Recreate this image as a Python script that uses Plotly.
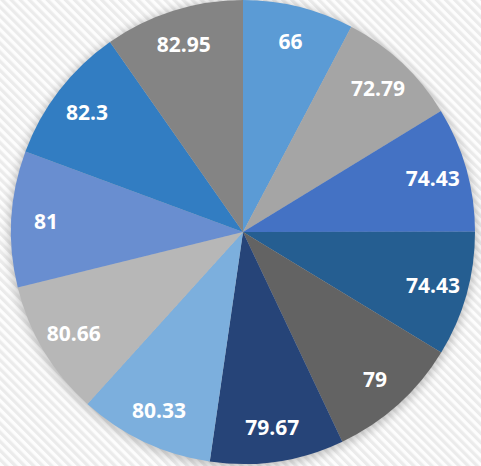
import plotly.graph_objects as go
import base64

labels = ["A1", "A2", "A3", "A4", "A5", "A6", "A7", "A8", "A9", "A10", "A11"]
values = [66, 72.79, 74.43, 74.43, 79, 79.67, 80.33, 80.66, 81, 82.3, 82.95]
text_labels = ["66", "72.79", "74.43", "74.43", "79", "79.67", "80.33", "80.66", "81", "82.3", "82.95"]
colors = ["#5B9BD5", "#A5A5A5", "#4472C4", "#255E91", "#636363", "#264478",
          "#7CAFDD", "#B7B7B7", "#698ED0", "#327DC2", "#848484"]

W, H = 481, 466
CX, CY, R = 243, 232, 232  # pie centre and radius in pixels (from top-left)

svg = ('<svg xmlns="http://www.w3.org/2000/svg" width="481" height="466">'
       '<defs><pattern id="p" width="6.4" height="6.4" patternUnits="userSpaceOnUse" '
       'patternTransform="rotate(-45)"><rect width="6.4" height="6.4" fill="#fdfdfd"/>'
       '<rect width="3.2" height="6.4" fill="#ebebeb"/></pattern>'
       '<filter id="b" x="-20%" y="-20%" width="140%" height="140%">'
       '<feGaussianBlur stdDeviation="5"/></filter></defs>'
       '<rect width="481" height="466" fill="url(#p)"/>'
       f'<circle cx="{CX}" cy="{CY + 2}" r="{R + 2}" fill="#000" opacity="0.22" filter="url(#b)"/>'
       '</svg>')
bg = "data:image/svg+xml;base64," + base64.b64encode(svg.encode()).decode()

dom = dict(x=[(CX - R) / W, (CX + R) / W], y=[(H - CY - R) / H, (H - CY + R) / H])

fig = go.Figure()
fig.add_trace(go.Pie(
    labels=labels,
    values=values,
    textinfo="none",
    sort=False,
    direction="clockwise",
    rotation=0,
    marker=dict(colors=colors, line=dict(width=0)),
    domain=dom,
    showlegend=False,
    hoverinfo="label+value",
))
fig.add_trace(go.Pie(
    labels=labels,
    values=values,
    text=text_labels,
    textinfo="text",
    textposition="inside",
    insidetextorientation="horizontal",
    sort=False,
    direction="clockwise",
    rotation=0,
    hole=0.7,
    marker=dict(colors=["rgba(0,0,0,0)"] * len(values), line=dict(width=0)),
    textfont=dict(family="Open Sans", size=21, color="white", weight="bold"),
    domain=dom,
    showlegend=False,
    hoverinfo="skip",
))

fig.update_layout(
    width=W, height=H,
    margin=dict(l=0, r=0, t=0, b=0),
    paper_bgcolor="#f4f4f4",
    plot_bgcolor="#f4f4f4",
    images=[dict(source=bg, xref="paper", yref="paper", x=0, y=1,
                 sizex=1, sizey=1, xanchor="left", yanchor="top",
                 sizing="stretch", layer="below")],
    uniformtext=dict(minsize=21, mode="show"),
)

fig.write_html("out.html", config={"displayModeBar": False},
               post_script="document.body.style.margin='0';")
